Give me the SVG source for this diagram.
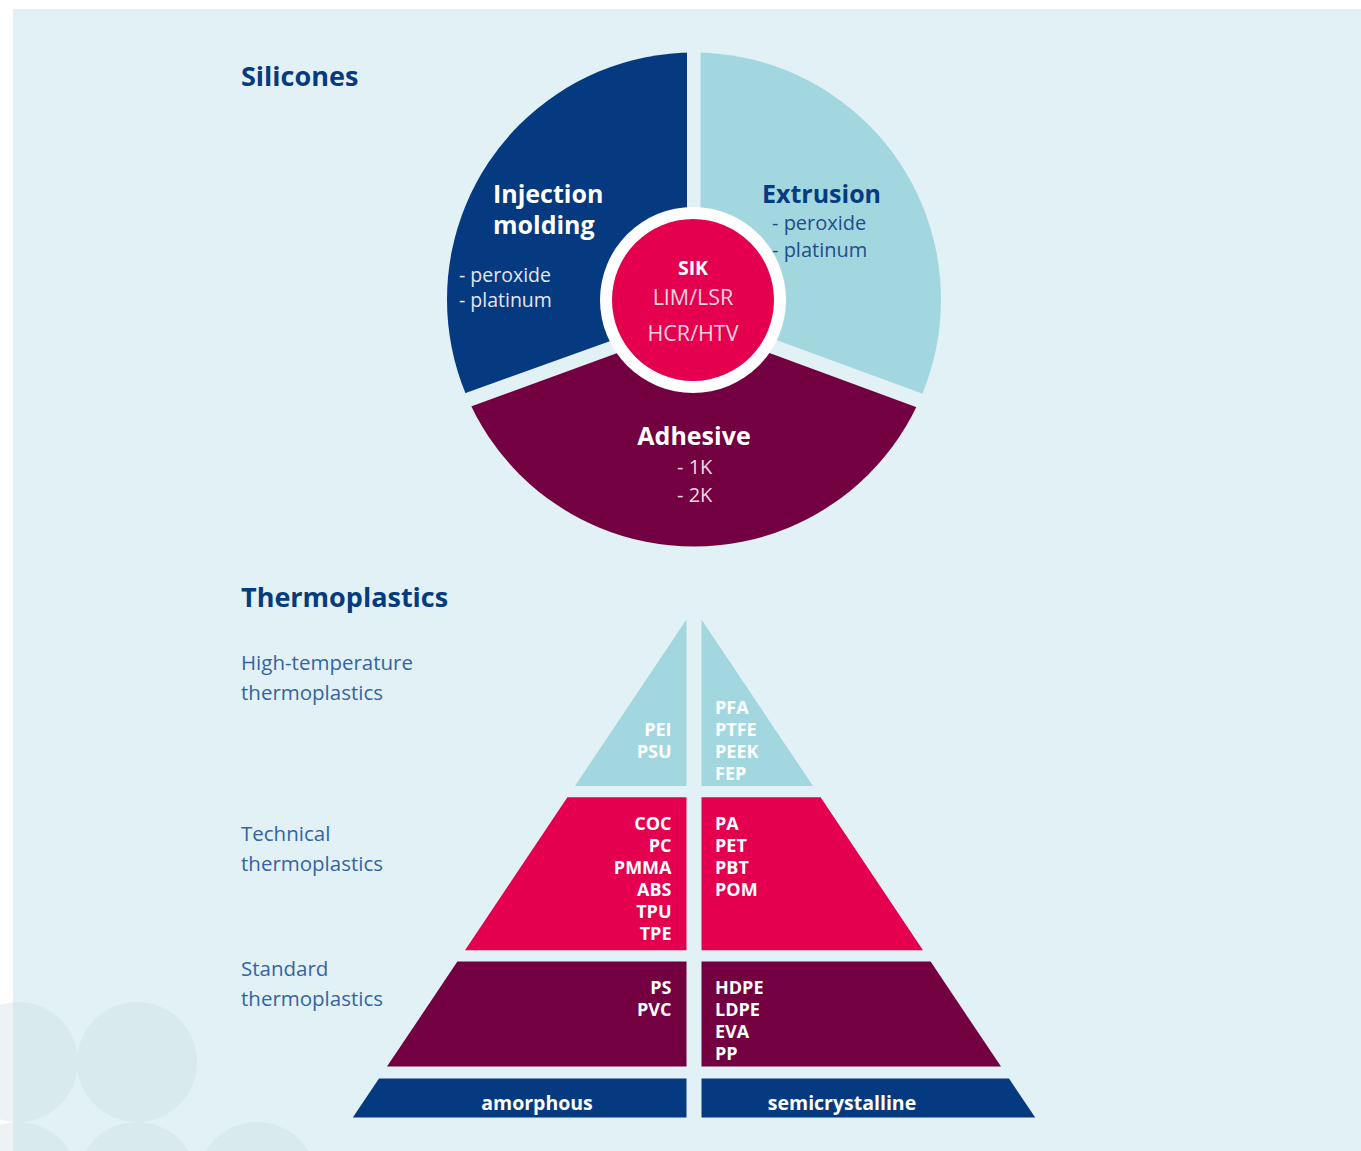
<svg xmlns="http://www.w3.org/2000/svg" width="1361" height="1151" viewBox="0 0 1361 1151">
<style>
text{font-family:"Open Sans","Noto Sans","Liberation Sans",sans-serif}
.title{font-size:27px;font-weight:700;fill:#063b7f}
.side{font-size:20.5px;fill:#3464a3}
.head{font-size:25px;font-weight:700}
.sub{font-size:20px}
.py{font-size:18px;font-weight:700;fill:#ffffff}
.base{font-size:19.5px;font-weight:700;fill:#ffffff}
.r{text-anchor:end}
.m{text-anchor:middle}
</style>
<defs>
<clipPath id="outside"><rect x="0" y="0" width="13" height="1151"/></clipPath>
<clipPath id="inside"><rect x="13" y="9" width="1348" height="1142"/></clipPath>
<clipPath id="pie"><circle cx="694" cy="299.5" r="247"/></clipPath>
</defs>
<rect width="1361" height="1151" fill="#ffffff"/>
<g id="deco-out" clip-path="url(#outside)" fill="#eef2f6">
<circle cx="18" cy="1062" r="60"/><circle cx="18" cy="1182" r="60"/>
</g>
<rect id="panel" x="13" y="9" width="1348" height="1142" fill="#e2f1f5"/>
<g id="deco-in" clip-path="url(#inside)" fill="#d9eaee">
<circle cx="18" cy="1062" r="60"/><circle cx="137" cy="1062" r="60"/>
<circle cx="18" cy="1182" r="60"/><circle cx="137" cy="1182" r="60"/><circle cx="257" cy="1182" r="60"/>
</g>

<text id="t-silicones" class="title" x="241" y="86">Silicones</text>

<g id="pie-sectors" clip-path="url(#pie)">
<g id="injection"><polygon points="440,40 687,40 687,313.4 440,402.3" fill="#053a80"/></g>
<g id="extrusion"><polygon points="700.5,40 950,40 950,403.8 700.5,312.1" fill="#a3d7df"/></g>
<g id="adhesive"><polygon points="440,417.9 694,325 950,419.7 950,560 440,560" fill="#730041"/></g>
</g>
<g id="sik">
<circle cx="693" cy="300" r="93" fill="#ffffff"/>
<circle cx="693" cy="300" r="81" fill="#e4004f"/>
<text class="m" x="693" y="275" font-size="19.5" font-weight="700" fill="#ffffff">SIK</text>
<text class="m" x="693" y="305" font-size="21.5" fill="#f8d2de">LIM/LSR</text>
<text class="m" x="693" y="341" font-size="21.5" fill="#f8d2de">HCR/HTV</text>
</g>
<g id="injection-text">
<text class="head" x="493" y="203" fill="#ffffff">Injection</text>
<text class="head" x="493" y="234" fill="#ffffff">molding</text>
<text x="459" y="282" font-size="19.5" fill="#e3e6f0">- peroxide</text>
<text x="459" y="306.5" font-size="19.5" fill="#e3e6f0">- platinum</text>
</g>
<g id="extrusion-text">
<text class="head" x="762" y="203" fill="#063b7f">Extrusion</text>
<text class="sub" x="772" y="230" fill="#1f4d8c">- peroxide</text>
<text class="sub" x="772" y="257" fill="#1f4d8c">- platinum</text>
</g>
<g id="adhesive-text">
<text class="head m" x="694" y="445" fill="#ffffff">Adhesive</text>
<text class="sub" x="677" y="474" fill="#f2dbe6">- 1K</text>
<text class="sub" x="677" y="502" fill="#f2dbe6">- 2K</text>
</g>

<text id="t-thermo" class="title" x="241" y="607">Thermoplastics</text>
<g id="labels">
<text class="side" x="241" y="670">High-temperature</text>
<text class="side" x="241" y="700">thermoplastics</text>
<text class="side" x="241" y="841">Technical</text>
<text class="side" x="241" y="871">thermoplastics</text>
<text class="side" x="241" y="976">Standard</text>
<text class="side" x="241" y="1006">thermoplastics</text>
</g>

<g id="high-temp">
<polygon points="686.5,619.6 686.5,786 575,786" fill="#a3d7df"/>
<polygon points="701.5,619.6 813,786 701.5,786" fill="#a3d7df"/>
<text class="py r" x="671.5" y="736">PEI</text>
<text class="py r" x="671.5" y="758">PSU</text>
<text class="py" x="715" y="714">PFA</text>
<text class="py" x="715" y="736">PTFE</text>
<text class="py" x="715" y="758">PEEK</text>
<text class="py" x="715" y="780">FEP</text>
</g>
<g id="technical">
<polygon points="567.4,797.3 686.5,797.3 686.5,950.2 465,950.2" fill="#e4004f"/>
<polygon points="701.5,797.3 820.6,797.3 923,950.2 701.5,950.2" fill="#e4004f"/>
<text class="py r" x="671.5" y="830">COC</text>
<text class="py r" x="671.5" y="852">PC</text>
<text class="py r" x="671.5" y="874">PMMA</text>
<text class="py r" x="671.5" y="896">ABS</text>
<text class="py r" x="671.5" y="918">TPU</text>
<text class="py r" x="671.5" y="940">TPE</text>
<text class="py" x="715" y="830">PA</text>
<text class="py" x="715" y="852">PET</text>
<text class="py" x="715" y="874">PBT</text>
<text class="py" x="715" y="896">POM</text>
</g>
<g id="standard">
<polygon points="457.4,961.6 686.5,961.6 686.5,1066.6 387,1066.6" fill="#730041"/>
<polygon points="701.5,961.6 930.6,961.6 1001,1066.6 701.5,1066.6" fill="#730041"/>
<text class="py r" x="671.5" y="994">PS</text>
<text class="py r" x="671.5" y="1016">PVC</text>
<text class="py" x="715" y="994">HDPE</text>
<text class="py" x="715" y="1016">LDPE</text>
<text class="py" x="715" y="1038">EVA</text>
<text class="py" x="715" y="1060">PP</text>
</g>
<g id="base">
<polygon points="379,1078.6 686.5,1078.6 686.5,1117.6 352.8,1117.6" fill="#053a80"/>
<polygon points="701.5,1078.6 1009,1078.6 1035.2,1117.6 701.5,1117.6" fill="#053a80"/>
<text class="base m" x="537" y="1110">amorphous</text>
<text class="base m" x="842" y="1110">semicrystalline</text>
</g>
<g id="connectors"/>
</svg>
